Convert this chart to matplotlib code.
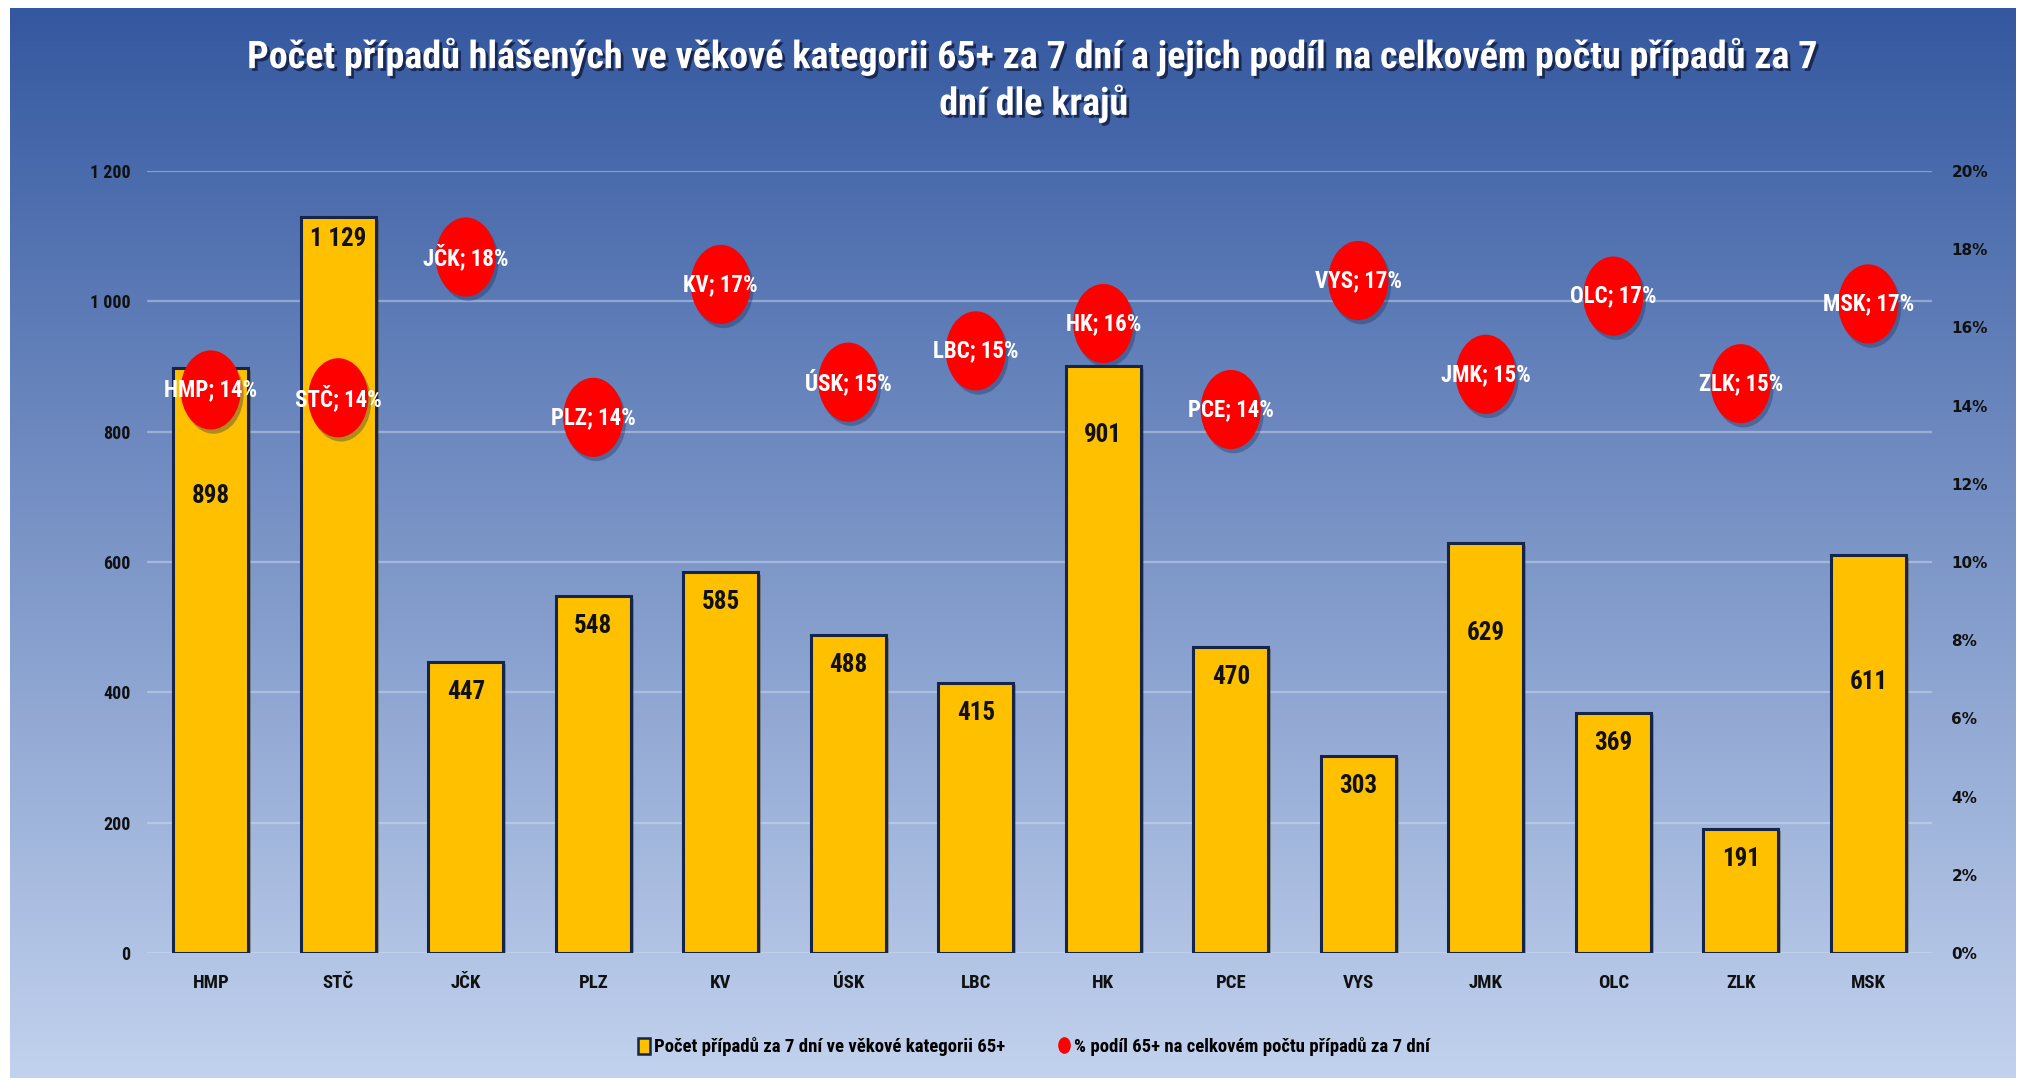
import numpy as np
import matplotlib
matplotlib.use('Agg')
import matplotlib.pyplot as plt
import matplotlib.patheffects as pe
from matplotlib.path import Path
from matplotlib.markers import MarkerStyle
from matplotlib.transforms import Affine2D
from matplotlib.patches import Patch
from matplotlib.lines import Line2D

# data
kraje = ['HMP', 'STČ', 'JČK', 'PLZ', 'KV', 'ÚSK', 'LBC', 'HK', 'PCE', 'VYS', 'JMK', 'OLC', 'ZLK', 'MSK']
pripady_65 = [898, 1129, 447, 548, 585, 488, 415, 901, 470, 303, 629, 369, 191, 611]
podil_65 = [14.4, 14.2, 17.8, 13.7, 17.1, 14.6, 15.4, 16.1, 13.9, 17.2, 14.8, 16.8, 14.56, 16.6]
left_ticks = [0, 200, 400, 600, 800, 1000, 1200]
right_ticks = [0, 2, 4, 6, 8, 10, 12, 14, 16, 18, 20]

title = ('Počet případů hlášených ve věkové kategorii 65+ za 7 dní a jejich podíl na celkovém počtu případů za 7\n'
         'dní dle krajů')
legend_labels = ['Počet případů za 7 dní ve věkové kategorii 65+',
                 '% podíl 65+ na celkovém počtu případů za 7 dní']

# how far (px) each bar label sits below the bar top
label_drop = [128, 22, 30, 30, 30, 30, 30, 69, 30, 30, 90, 30, 30, 127]

NARROW = ['Liberation Sans Narrow', 'Roboto Condensed', 'DejaVu Sans Condensed',
          'Open Sans Condensed', 'Lato', 'Liberation Sans']
W, H = 2026, 1078

fig = plt.figure(figsize=(W / 100, H / 100), dpi=100)
fig.patch.set_facecolor('white')

# gradient background
bg = fig.add_axes([10 / W, 0, (W - 20) / W, (H - 8) / H], zorder=-10)
top = np.array([0x34, 0x58, 0xA0]) / 255
bot = np.array([0xC2, 0xD2, 0xEE]) / 255
t = np.linspace(0, 1, 256)[:, None]
grad = top + (bot - top) * t
bg.imshow(grad[:, None, :], aspect='auto', extent=[0, 1, 0, 1])
bg.axis('off')

ax = fig.add_axes([147 / W, 1 - 953 / H, (1932 - 147) / W, (953 - 171) / H])
ax.patch.set_visible(False)
x = np.arange(len(kraje))

bars = ax.bar(x, pripady_65, width=0.59, color='#FFC000', edgecolor='#14244A',
              linewidth=2.2, zorder=3)
for b in bars:
    b.set_path_effects([pe.SimplePatchShadow(offset=(2, -2), alpha=0.35), pe.Normal()])

ax.set_xlim(-0.5, len(kraje) - 0.5)
ax.set_ylim(0, 1200)
ax.set_yticks(left_ticks)
ax.set_yticklabels([f'{v:,}'.replace(',', ' ') for v in left_ticks])
ax.set_xticks(x)
ax.set_xticklabels(kraje)
ax.yaxis.grid(True, color='#d4e0f5', alpha=0.45, linewidth=1.6)
ax.set_axisbelow(True)
ax.tick_params(axis='y', length=0, pad=12)
ax.tick_params(axis='x', length=0, pad=15)
for s in ax.spines.values():
    s.set_visible(False)
for lbl in ax.get_yticklabels():
    lbl.set_family(NARROW)
    lbl.set_fontweight('bold')
    lbl.set_fontsize(13)
    lbl.set_color('#111111')
for lbl in ax.get_xticklabels():
    lbl.set_family(NARROW)
    lbl.set_fontweight('bold')
    lbl.set_fontsize(13.5)
    lbl.set_color('#111111')

for xi, v, d in zip(x, pripady_65, label_drop):
    ax.annotate(f'{v:,}'.replace(',', ' '), xy=(xi, v), xytext=(0, -d * 0.72),
                textcoords='offset points', ha='center', va='center',
                fontsize=18, fontweight='bold', family=NARROW, color='#111111', zorder=4)

# right axis with the percentage bubbles
ax2 = ax.twinx()
ax2.patch.set_visible(False)
ax2.set_ylim(0, 20)
ax2.set_yticks(right_ticks)
ax2.set_yticklabels([f'{v}%' for v in right_ticks])
ax2.tick_params(axis='y', length=0, pad=14)
for s in ax2.spines.values():
    s.set_visible(False)
for lbl in ax2.get_yticklabels():
    lbl.set_family('DejaVu Sans')
    lbl.set_fontweight('bold')
    lbl.set_fontsize(11)
    lbl.set_color('#111111')

ellipse = MarkerStyle(Path.unit_circle().transformed(Affine2D().scale(0.76, 1.0)))
ax2.plot(x, podil_65, ls='none', marker=ellipse, ms=57, mfc='#FF0000', mec='none', zorder=4,
         path_effects=[pe.SimplePatchShadow(offset=(2, -3), shadow_rgbFace='#1a2a55', alpha=0.35),
                       pe.Normal()])
for xi, k, p in zip(x, kraje, podil_65):
    ax2.text(xi, p, f'{k}; {p:.0f}%', ha='center', va='center', color='white',
             fontsize=16.5, fontweight='bold', family=NARROW, zorder=5)

ttl = fig.text(1034 / W, 1 - 80 / H, title, ha='center', va='center', ma='center',
               fontsize=24, fontweight='bold', color='white', family=NARROW, linespacing=1.25,
               path_effects=[pe.SimplePatchShadow(offset=(2, -2), shadow_rgbFace='#15234a', alpha=0.9),
                             pe.Normal()])
# fit the first title line to the width it has in the original (~1576 px)
renderer = fig.canvas.get_renderer()
w = ttl.get_window_extent(renderer).width
ttl.set_fontsize(min(30, 24 * 1576 / w))

handles = [Patch(facecolor='#FFC000', edgecolor='#14244A', linewidth=1.8),
           Line2D([], [], ls='none', marker=ellipse, ms=12, mfc='#FF0000', mec='none')]
fig.legend(handles, legend_labels, loc='center', bbox_to_anchor=(1034 / W, 1 - 1047 / H),
           ncol=2, frameon=False, handlelength=0.6, handleheight=0.9, handletextpad=0.25,
           columnspacing=2.8, prop={'family': NARROW, 'weight': 'bold', 'size': 13.5})

fig.savefig('out.png', dpi=100)
